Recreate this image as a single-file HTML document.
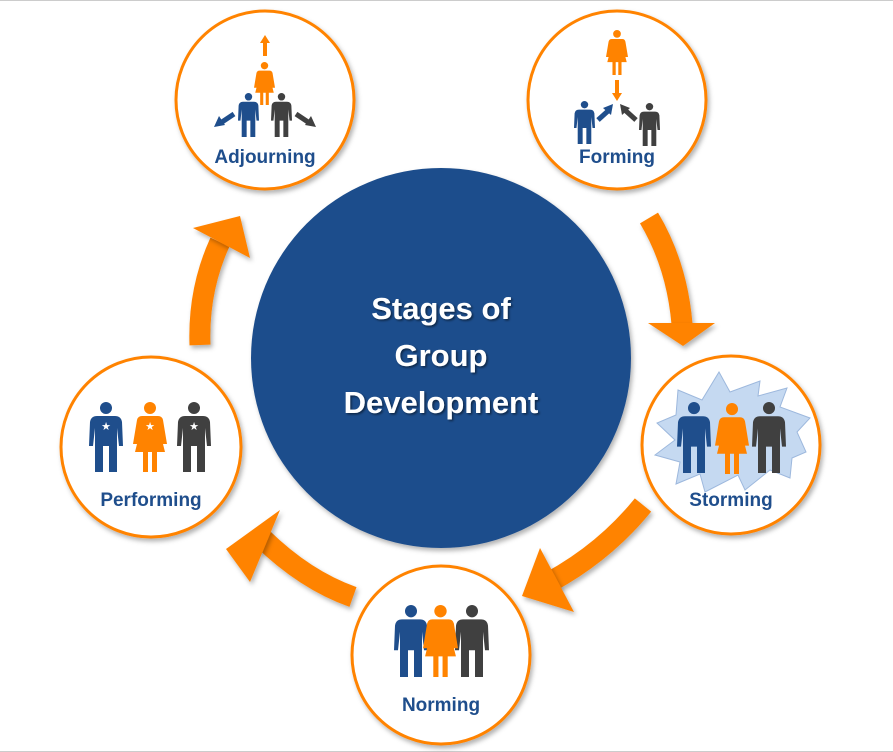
<!DOCTYPE html>
<html><head><meta charset="utf-8"><style>
html,body{margin:0;padding:0;background:#fff;}
svg{display:block;}
.lbl{font-family:"Liberation Sans",sans-serif;font-weight:bold;font-size:19px;fill:#1f4e8c;text-anchor:middle;}
.ttl{font-family:"Liberation Sans",sans-serif;font-weight:bold;font-size:31px;fill:#fff;text-anchor:middle;}
</style></head><body>
<svg width="893" height="752" viewBox="0 0 893 752" xmlns="http://www.w3.org/2000/svg">
<defs>
<filter id="sh" x="-20%" y="-20%" width="140%" height="140%"><feDropShadow dx="2" dy="3" stdDeviation="2.5" flood-color="#000" flood-opacity="0.3"/></filter>
<filter id="ts"><feDropShadow dx="1.5" dy="1.5" stdDeviation="1" flood-color="#000" flood-opacity="0.5"/></filter>
<symbol id="man" viewBox="0 0 34 70" preserveAspectRatio="none">
<circle cx="17" cy="6" r="6"/>
<path d="M8,14 H26 Q32,14 33,20 L34,44 H30 L28,26 V70 H20 V44 H14 V70 H6 V26 L4,44 H0 L1,20 Q2,14 8,14Z"/>
</symbol>
<symbol id="woman" viewBox="0 0 34 70" preserveAspectRatio="none">
<circle cx="17" cy="6" r="6"/>
<path d="M9,14 H25 Q29,14 30,18 L34,42 H30 L26,26 L32,50 H24 V70 H19 V50 H15 V70 H10 V50 H2 L8,26 L4,42 H0 L4,18 Q5,14 9,14Z"/>
</symbol>
</defs>
<rect x="0" y="0" width="893" height="1" fill="#ccc"/>
<rect x="0" y="751" width="893" height="1" fill="#ccc"/>

<g fill="none" stroke="#ff8300" stroke-width="21" filter="url(#sh)">
<path d="M649,218 Q677,265 682,324"/>
<path d="M643,505 Q605,552 550,582"/>
<path d="M353,597 Q305,580 262,538"/>
<path d="M200,345 Q198,290 220,242"/>
</g>
<g fill="#ff8300" filter="url(#sh)">
<polygon points="648,323 715,323 683,346"/>
<polygon points="540,548 574,612 522,596"/>
<polygon points="280,510 250,582 226,549"/>
<polygon points="193,228 250,258 240,216"/>
</g>

<circle cx="441" cy="358" r="190" fill="#1f4e8c" filter="url(#sh)"/>
<g filter="url(#ts)">
<text class="ttl" x="441" y="319">Stages of</text>
<text class="ttl" x="441" y="366">Group</text>
<text class="ttl" x="441" y="413">Development</text>
</g>

<g fill="#fff" stroke="#ff8300" stroke-width="3" filter="url(#sh)">
<circle cx="265" cy="100" r="89"/>
<circle cx="617" cy="100" r="89"/>
<circle cx="731" cy="445" r="89"/>
<circle cx="441" cy="655" r="89"/>
<circle cx="151" cy="447" r="90"/>
</g>

<use href="#woman" x="254" y="62" width="21" height="43" fill="#ff8300"/>
<use href="#man" x="238" y="93" width="21" height="44" fill="#1f4e8c"/>
<use href="#man" x="271" y="93" width="21" height="44" fill="#404040"/>
<path d="M265,56 V42" stroke="#ff8300" stroke-width="4"/>
<polygon points="260,43 270,43 265,35" fill="#ff8300"/>
<path d="M234,114 L222,122" stroke="#1f4e8c" stroke-width="5"/>
<polygon points="214,127 219,116 225,125" fill="#1f4e8c"/>
<path d="M296,114 L308,122" stroke="#404040" stroke-width="5"/>
<polygon points="316,127 311,116 305,125" fill="#404040"/>
<text class="lbl" x="265" y="163">Adjourning</text>

<use href="#woman" x="606" y="30" width="22" height="45" fill="#ff8300"/>
<path d="M617,80 V94" stroke="#ff8300" stroke-width="4"/>
<polygon points="612,93 622,93 617,101" fill="#ff8300"/>
<use href="#man" x="574" y="101" width="21" height="43" fill="#1f4e8c"/>
<use href="#man" x="639" y="103" width="21" height="43" fill="#404040"/>
<path d="M598,120 L608,111" stroke="#1f4e8c" stroke-width="5"/>
<polygon points="613,104 611,115 603,108" fill="#1f4e8c"/>
<path d="M636,120 L626,111" stroke="#404040" stroke-width="5"/>
<polygon points="620,104 622,115 630,108" fill="#404040"/>
<text class="lbl" x="617" y="163">Forming</text>

<polygon points="719,372 730,392 760,381 758,396 787,388 780,407 810,418 797,432 806,452 792,458 790,478 770,470 745,490 738,475 705,492 700,474 676,484 680,462 655,455 675,440 657,423 676,415 678,390 702,400" fill="#c5d9f1" stroke="#9db8dd" stroke-width="1"/>
<use href="#man" x="677" y="402" width="34" height="71" fill="#1f4e8c"/>
<use href="#woman" x="715" y="403" width="34" height="71" fill="#ff8300"/>
<use href="#man" x="752" y="402" width="34" height="71" fill="#404040"/>
<text class="lbl" x="731" y="506">Storming</text>

<use href="#man" x="394" y="605" width="34" height="72" fill="#1f4e8c"/>
<use href="#man" x="455" y="605" width="34" height="72" fill="#404040"/>
<use href="#woman" x="423" y="605" width="35" height="72" fill="#ff8300"/>
<text class="lbl" x="441" y="711">Norming</text>

<use href="#man" x="89" y="402" width="34" height="70" fill="#1f4e8c"/>
<use href="#woman" x="133" y="402" width="34" height="70" fill="#ff8300"/>
<use href="#man" x="177" y="402" width="34" height="70" fill="#404040"/>
<g fill="#fff" font-family="DejaVu Sans,sans-serif" font-size="11" text-anchor="middle">
<text x="106" y="430">★</text><text x="150" y="430">★</text><text x="194" y="430">★</text>
</g>
<text class="lbl" x="151" y="506">Performing</text>
</svg>
</body></html>
